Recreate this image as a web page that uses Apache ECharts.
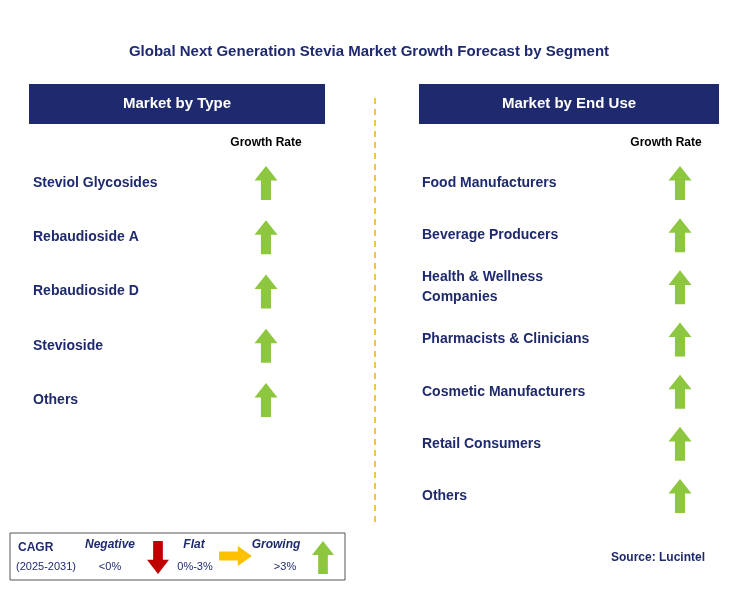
<!DOCTYPE html>
<html lang="en">
<head>
<meta charset="UTF-8">
<title>Stevia Market Growth Forecast</title>
<script src="https://cdn.jsdelivr.net/npm/echarts@6/dist/echarts.min.js"></script>
<style>html,body{margin:0;padding:0;background:#fff}</style>
</head>
<body>
<div id="main" style="width:738px;height:603px;"></div>
<script>
// segment names and growth level (1 = growing)
var typeNames = ['Steviol Glycosides', 'Rebaudioside A', 'Rebaudioside D', 'Stevioside', 'Others'];
var typeGrowth = [1, 1, 1, 1, 1];
var endUseNames = ['Food Manufacturers', 'Beverage Producers', 'Health & Wellness\nCompanies',
    'Pharmacists & Clinicians', 'Cosmetic Manufacturers', 'Retail Consumers', 'Others'];
var endUseGrowth = [1, 1, 1, 1, 1, 1, 1];

var navy = '#1F2A6E';
var green = '#8DC63F';
var upArrow = 'path://M5,0 L10,6 L7.2,6 L7.2,14 L2.8,14 L2.8,6 L0,6 Z';
var font = 'Arial, "Liberation Sans", sans-serif';

// arrow polygon for the legend, scaled into a box
function arrowPts(pts, x, y, sx, sy) {
    return pts.map(function (p) { return [x + p[0] * sx, y + p[1] * sy]; });
}
var upPts = [[5, 0], [10, 6], [7.2, 6], [7.2, 14], [2.8, 14], [2.8, 6], [0, 6]];
var downPts = [[2.8, 0], [7.2, 0], [7.2, 8], [10, 8], [5, 14], [0, 8], [2.8, 8]];
var rightPts = [[0, 2.8], [8, 2.8], [8, 0], [14, 5], [8, 10], [8, 7.2], [0, 7.2]];

function rows(names, vals, idx) {
    return [{
        type: 'scatter', xAxisIndex: idx, yAxisIndex: idx,
        symbol: upArrow, symbolSize: [23, 34],
        itemStyle: { color: green, opacity: 1 },
        data: names.map(function (n, i) { return [vals[i], n]; })
    }, {
        type: 'scatter', xAxisIndex: idx, yAxisIndex: idx,
        symbolSize: 0, itemStyle: { color: 'rgba(0,0,0,0)', opacity: 1 },
        label: {
            show: true, position: 'right', distance: 0,
            formatter: function (p) { return p.value[1]; },
            color: navy, fontWeight: 'bold', fontSize: 14, fontFamily: font, lineHeight: 20
        },
        data: names.map(function (n) { return [0, n]; })
    }];
}

var myChart = echarts.init(document.getElementById('main'));
var option = {
    animation: false,
    title: {
        text: 'Global Next Generation Stevia Market Growth Forecast by Segment',
        left: 'center', top: 39,
        textStyle: { color: navy, fontSize: 15, fontWeight: 'bold', fontFamily: font }
    },
    grid: [
        { left: 33, width: 233, top: 183, height: 217 },
        { left: 422, width: 258, top: 183, height: 313 }
    ],
    xAxis: [
        { gridIndex: 0, type: 'value', min: 0, max: 1, show: false },
        { gridIndex: 1, type: 'value', min: 0, max: 1, show: false }
    ],
    yAxis: [
        { gridIndex: 0, type: 'category', data: typeNames, inverse: true, boundaryGap: false, show: false },
        { gridIndex: 1, type: 'category', data: endUseNames, inverse: true, boundaryGap: false, show: false }
    ],
    series: rows(typeNames, typeGrowth, 0).concat(rows(endUseNames, endUseGrowth, 1)),
    graphic: [
        { type: 'rect', shape: { x: 29, y: 84, width: 296, height: 40 }, style: { fill: navy } },
        { type: 'text', x: 177, y: 104, style: { text: 'Market by Type', fill: '#fff', font: 'bold 15px ' + font, textAlign: 'center', textVerticalAlign: 'middle' } },
        { type: 'rect', shape: { x: 419, y: 84, width: 300, height: 40 }, style: { fill: navy } },
        { type: 'text', x: 569, y: 104, style: { text: 'Market by End Use', fill: '#fff', font: 'bold 15px ' + font, textAlign: 'center', textVerticalAlign: 'middle' } },
        { type: 'text', x: 266, y: 143, style: { text: 'Growth Rate', fill: '#000', font: 'bold 12px ' + font, textAlign: 'center', textVerticalAlign: 'middle' } },
        { type: 'text', x: 666, y: 143, style: { text: 'Growth Rate', fill: '#000', font: 'bold 12px ' + font, textAlign: 'center', textVerticalAlign: 'middle' } },
        { type: 'line', shape: { x1: 375, y1: 98, x2: 375, y2: 525 }, style: { stroke: '#F5C242', lineWidth: 2, lineDash: [6, 5] } },
        // legend box
        { type: 'rect', shape: { x: 10, y: 533, width: 335, height: 47 }, style: { fill: '#fff', stroke: '#555', lineWidth: 1 } },
        { type: 'text', x: 18, y: 548, style: { text: 'CAGR', fill: navy, font: 'bold 12px ' + font, textVerticalAlign: 'middle' } },
        { type: 'text', x: 16, y: 567, style: { text: '(2025-2031)', fill: navy, font: '11px ' + font, textVerticalAlign: 'middle' } },
        { type: 'text', x: 110, y: 545, style: { text: 'Negative', fill: navy, font: 'italic bold 12px ' + font, textAlign: 'center', textVerticalAlign: 'middle' } },
        { type: 'text', x: 110, y: 567, style: { text: '<0%', fill: navy, font: '11px ' + font, textAlign: 'center', textVerticalAlign: 'middle' } },
        { type: 'polygon', shape: { points: arrowPts(downPts, 147, 541, 2.2, 2.35) }, style: { fill: '#C00000' } },
        { type: 'text', x: 194, y: 545, style: { text: 'Flat', fill: navy, font: 'italic bold 12px ' + font, textAlign: 'center', textVerticalAlign: 'middle' } },
        { type: 'text', x: 195, y: 567, style: { text: '0%-3%', fill: navy, font: '11px ' + font, textAlign: 'center', textVerticalAlign: 'middle' } },
        { type: 'polygon', shape: { points: arrowPts(rightPts, 219, 546, 2.35, 2) }, style: { fill: '#FFC000' } },
        { type: 'text', x: 276, y: 545, style: { text: 'Growing', fill: navy, font: 'italic bold 12px ' + font, textAlign: 'center', textVerticalAlign: 'middle' } },
        { type: 'text', x: 285, y: 567, style: { text: '>3%', fill: navy, font: '11px ' + font, textAlign: 'center', textVerticalAlign: 'middle' } },
        { type: 'polygon', shape: { points: arrowPts(upPts, 312, 541, 2.2, 2.35) }, style: { fill: green } },
        { type: 'text', x: 705, y: 558, style: { text: 'Source: Lucintel', fill: navy, font: 'bold 12px ' + font, textAlign: 'right', textVerticalAlign: 'middle' } }
    ]
};
myChart.setOption(option);
</script>
</body>
</html>
